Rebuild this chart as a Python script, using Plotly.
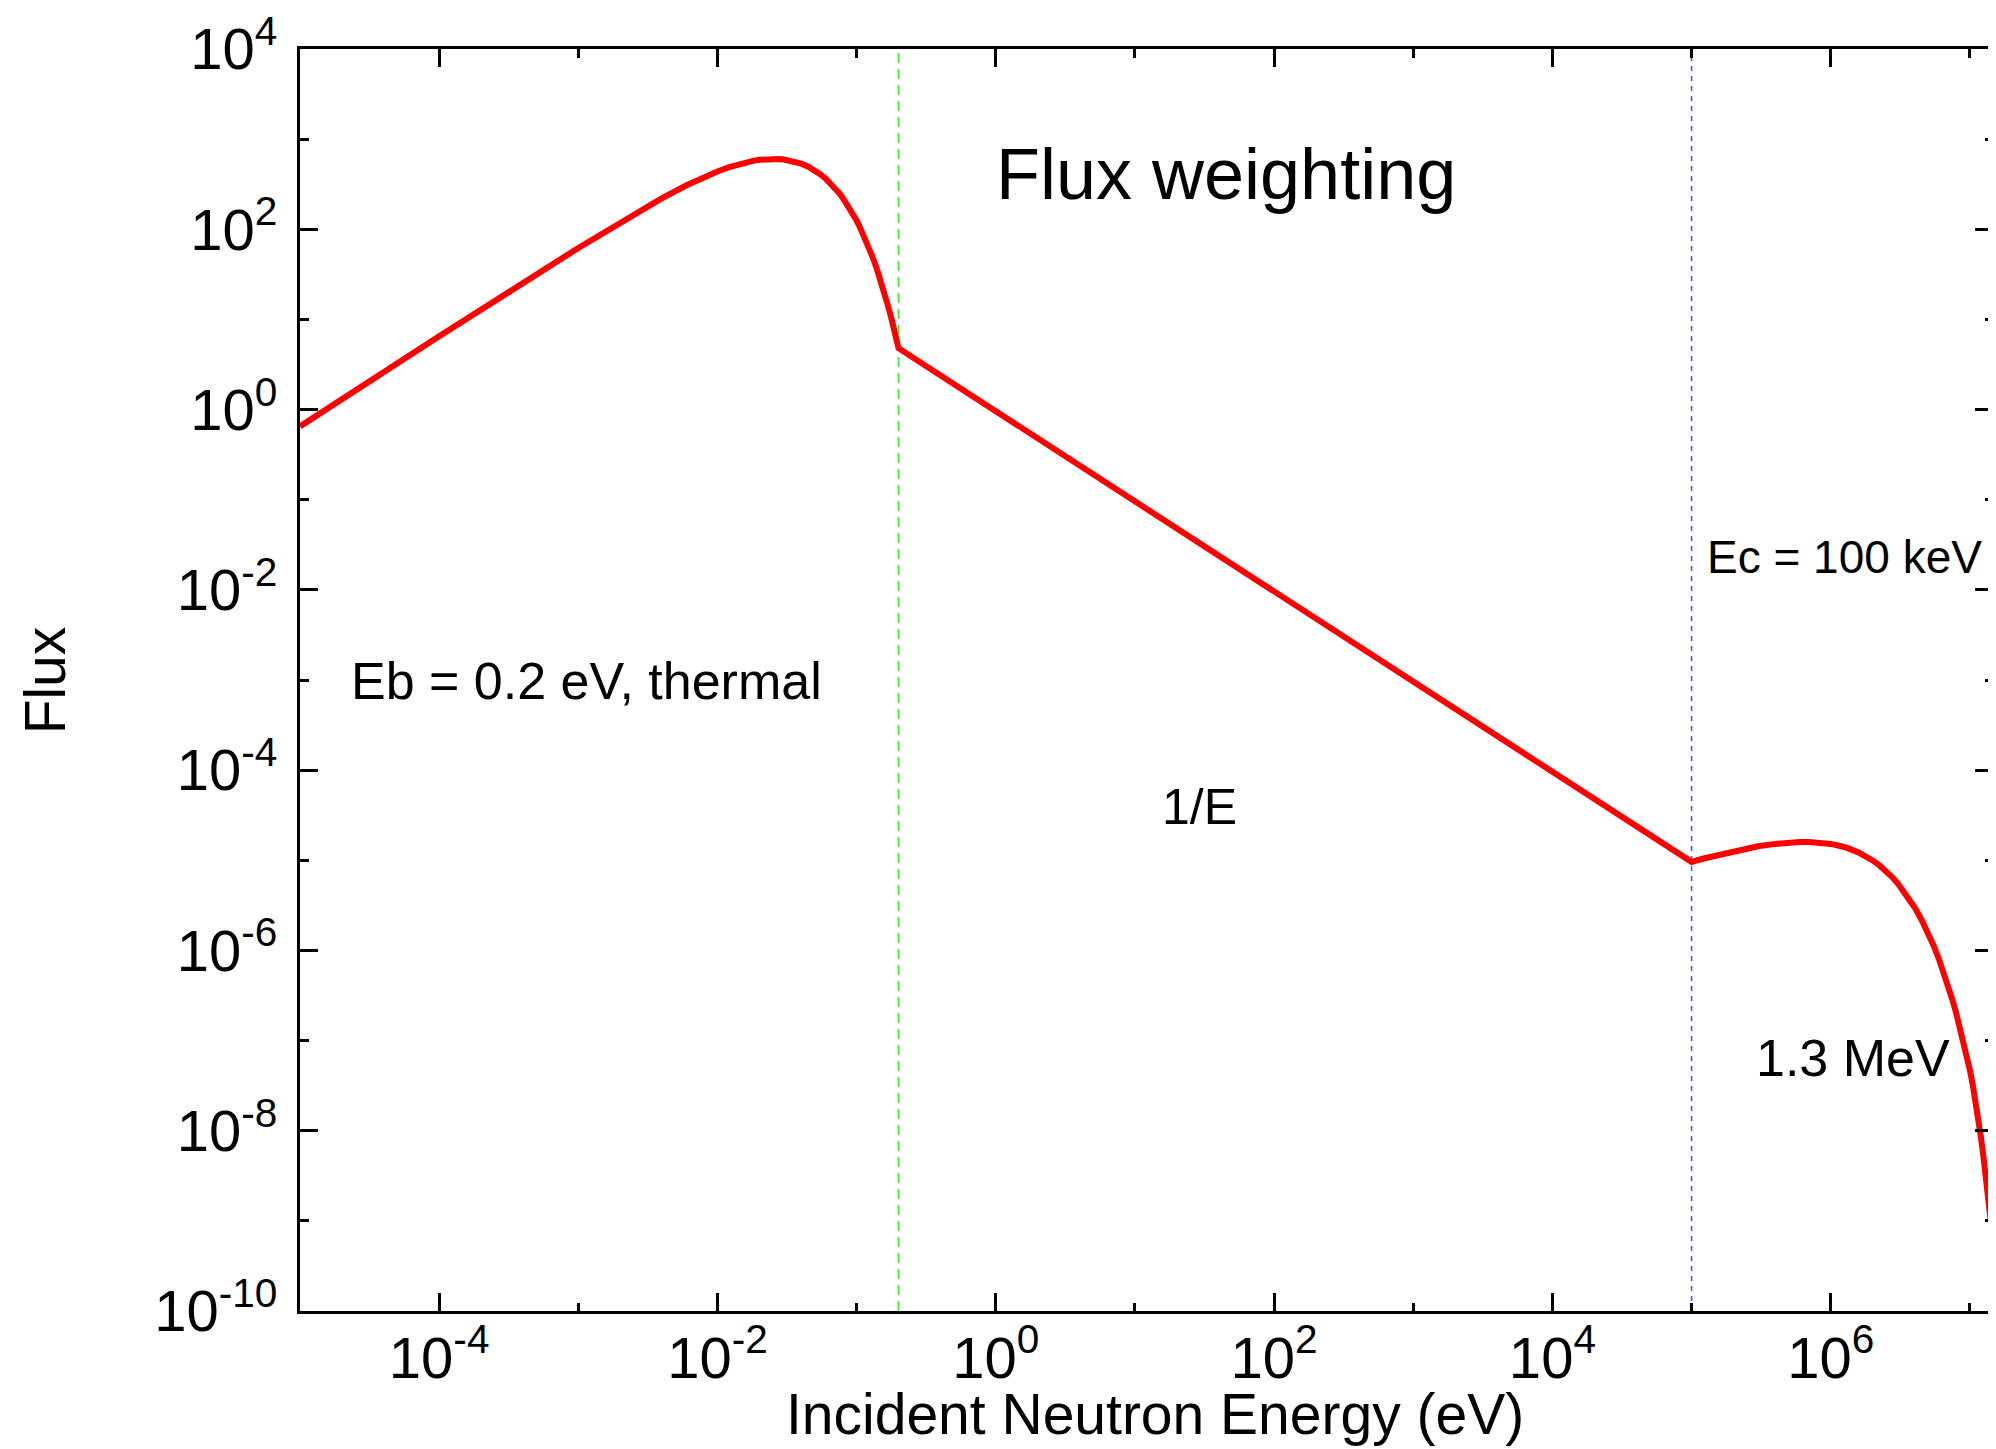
import plotly.graph_objects as go

# ---- data (energy in eV, flux arbitrary units) ----
thermal_energy = [1e-5, 1e-4, 1e-3, 2e-3, 3e-3, 4e-3, 6e-3, 8e-3, 1e-2, 1.2e-2, 1.5e-2, 1.8e-2,
                  2e-2, 2.2e-2, 2.5e-2, 2.8e-2, 3e-2, 3.5e-2, 4e-2, 4.5e-2, 5e-2, 5.5e-2,
                  6e-2, 6.5e-2, 7e-2, 7.5e-2, 8e-2, 8.5e-2, 9e-2, 0.095, 0.10, 0.105, 0.11,
                  0.115, 0.12, 0.13, 0.14, 0.15, 0.16, 0.17, 0.18, 0.19, 0.20]
thermal_flux = [0.65, 6.5, 62, 120, 173, 222, 308, 379, 438, 486, 539, 574,
                590, 599, 605, 602, 595, 570, 535, 494, 450, 406,
                364, 324, 286, 252, 220, 192, 167, 144.5, 125, 107.6, 92.5,
                79.4, 68, 49.6, 36, 26, 18.7, 13.3, 9.5, 6.76, 4.8]

slowing_energy = [0.2, 1, 10, 100, 1e3, 1e4, 1e5]
slowing_flux = [4.8, 0.96, 0.096, 9.6e-3, 9.6e-4, 9.6e-5, 9.6e-6]

fission_energy = [1e5, 1.2e5, 1.5e5, 2e5, 3e5, 4e5, 5e5, 6e5, 7e5, 8.5e5, 1e6, 1.15e6,
                  1.3e6, 1.6e6, 1.8e6, 2e6, 2.25e6, 2.5e6, 2.75e6, 3e6, 3.5e6, 4e6, 4.5e6,
                  5e6, 5.5e6, 6e6, 6.5e6, 7e6, 7.5e6, 8e6, 8.5e6, 9e6, 9.5e6, 1e7, 1.05e7,
                  1.1e7, 1.15e7, 1.2e7, 1.25e7, 1.3e7, 1.35e7, 1.4e7, 1.45e7, 1.5e7, 1.6e7]
fission_flux = [9.6e-6, 1.04e-5, 1.13e-5, 1.26e-5, 1.43e-5, 1.52e-5, 1.58e-5, 1.60e-5,
                1.60e-5, 1.57e-5, 1.52e-5, 1.45e-5, 1.38e-5, 1.21e-5, 1.10e-5, 9.96e-6,
                8.71e-6, 7.58e-6, 6.56e-6, 5.65e-6, 4.16e-6, 3.02e-6, 2.18e-6, 1.57e-6,
                1.12e-6, 7.95e-7, 5.64e-7, 3.98e-7, 2.81e-7, 1.97e-7, 1.38e-7, 9.7e-8,
                6.77e-8, 4.7e-8, 3.2e-8, 2.1e-8, 1.35e-8, 8.5e-9, 5.2e-9, 3.2e-9, 2.0e-9,
                1.2e-9, 7.0e-10, 4.3e-10, 1.5e-10]

Eb = 0.2      # eV, thermal break
Ec = 1e5      # eV, fission break
flux_span = [1e-10, 1e4]

x_tick_vals = [1e-4, 1e-2, 1e0, 1e2, 1e4, 1e6]
x_tick_text = ["10<sup>-4</sup>", "10<sup>-2</sup>", "10<sup>0</sup>", "10<sup>2</sup>",
               "10<sup>4</sup>", "10<sup>6</sup>"]
x_minor_vals = [1e-3, 1e-1, 1e1, 1e3, 1e5, 1e7]
y_tick_vals = [1e4, 1e2, 1e0, 1e-2, 1e-4, 1e-6, 1e-8, 1e-10]
y_tick_text = ["10<sup>4</sup>", "10<sup>2</sup>", "10<sup>0</sup>", "10<sup>-2</sup>",
               "10<sup>-4</sup>", "10<sup>-6</sup>", "10<sup>-8</sup>", "10<sup>-10</sup>"]
y_minor_vals = [1e3, 1e1, 1e-1, 1e-3, 1e-5, 1e-7, 1e-9]

energy = thermal_energy + slowing_energy[1:] + fission_energy[1:]
flux = thermal_flux + slowing_flux[1:] + fission_flux[1:]

FONT = "Liberation Sans, Arial, Helvetica, sans-serif"

fig = go.Figure()
fig.add_trace(go.Scatter(x=[Eb, Eb], y=flux_span, mode="lines",
                         line=dict(color="#33ee33", width=1.6, dash="10px,6px"),
                         hoverinfo="skip"))
fig.add_trace(go.Scatter(x=[Ec, Ec], y=flux_span, mode="lines",
                         line=dict(color="#4455ff", width=1.6, dash="5px,5px"),
                         hoverinfo="skip"))
fig.add_trace(go.Scatter(x=energy, y=flux, mode="lines",
                         line=dict(color="#ff0000", width=6)))

axis_common = dict(
    type="log", showline=True, linecolor="black", linewidth=3, mirror="ticks",
    ticks="inside", ticklen=18, tickwidth=2.5, tickcolor="black",
    showgrid=False, zeroline=False, ticklabeloverflow="allow",
    tickfont=dict(family=FONT, size=58, color="black"),
)

fig.update_xaxes(**axis_common, range=[-5, 7.166], tickmode="array",
                 tickvals=x_tick_vals, ticktext=x_tick_text, ticklabelstandoff=-6,
                 minor=dict(tickvals=x_minor_vals, ticks="inside", ticklen=8.5,
                            tickwidth=2.5, tickcolor="black", showgrid=False))
fig.update_yaxes(**axis_common, range=[-10, 4], tickmode="array",
                 tickvals=y_tick_vals, ticktext=y_tick_text, ticklabelstandoff=8,
                 minor=dict(tickvals=y_minor_vals, ticks="inside", ticklen=8.5,
                            tickwidth=2.5, tickcolor="black", showgrid=False))

def note(text, x, y, size, xanchor="left", angle=0):
    fig.add_annotation(text=text, xref="paper", yref="paper", x=x, y=y,
                       xanchor=xanchor, yanchor="middle", showarrow=False,
                       textangle=angle, font=dict(family=FONT, size=size, color="black"))

note("Flux weighting", 0.4097, 0.9006, 72)
note("Eb = 0.2 eV, thermal", 0.0290, 0.4992, 52)
note("1/E", 0.5077, 0.3994, 50)
note("Ec = 100 keV", 0.8296, 0.5972, 46)
note("1.3 MeV", 0.8591, 0.2007, 52)
note("Incident Neutron Energy (eV)", 0.5053, -0.082, 57, xanchor="center")
note("Flux", -0.1504, 0.5, 57, xanchor="center", angle=-90)

# the page body has an 8px margin, so the figure is 8px smaller than the window
fig.update_layout(
    width=1988, height=1441,
    margin=dict(l=292, r=0, t=35, b=138),
    paper_bgcolor="white", plot_bgcolor="white",
    showlegend=False,
    font=dict(family=FONT, color="black"),
)

fig.write_html("out.html")
